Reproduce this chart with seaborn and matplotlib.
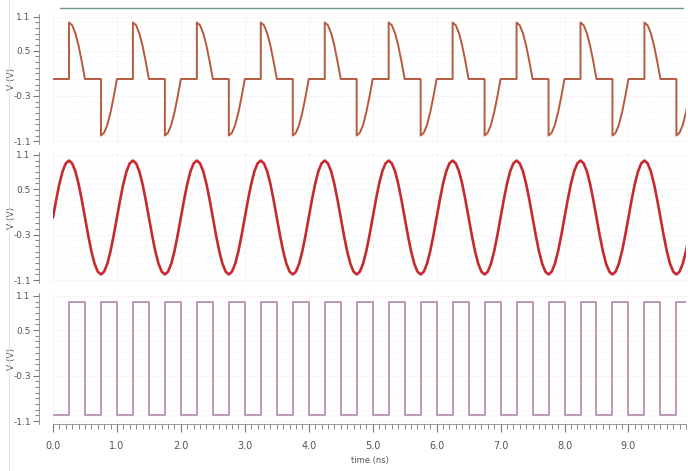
import numpy as np
import pandas as pd
import seaborn as sns
import matplotlib
matplotlib.use("Agg")
import matplotlib.pyplot as plt
from matplotlib.ticker import MultipleLocator, FixedLocator
from matplotlib.lines import Line2D

# ---- data ----
n_periods = 10          # waveform repeats every 1 ns
period_ns = 1.0

# middle panel: sine, one period sampled every 0.05 ns
sine_t = [0.00, 0.05, 0.10, 0.15, 0.20, 0.25, 0.30, 0.35, 0.40, 0.45,
          0.50, 0.55, 0.60, 0.65, 0.70, 0.75, 0.80, 0.85, 0.90, 0.95, 1.00]
sine_v = [0.00, 0.31, 0.59, 0.81, 0.95, 1.00, 0.95, 0.81, 0.59, 0.31,
          0.00, -0.31, -0.59, -0.81, -0.95, -1.00, -0.95, -0.81, -0.59, -0.31, 0.00]

# top panel: switched (sampled) output, one period
switched_t = [0.00, 0.25, 0.25, 0.30, 0.35, 0.40, 0.45, 0.50,
              0.75, 0.75, 0.80, 0.85, 0.90, 0.95, 1.00]
switched_v = [0.00, 0.00, 1.00, 0.95, 0.81, 0.59, 0.31, 0.00,
              0.00, -1.00, -0.95, -0.81, -0.59, -0.31, 0.00]

# bottom panel: clock, one period (two clock cycles)
clock_t = [0.00, 0.25, 0.25, 0.50, 0.50, 0.75, 0.75, 1.00]
clock_v = [-1.00, -1.00, 1.00, 1.00, -1.00, -1.00, 1.00, 1.00]

y_ticks = [1.1, 0.5, -0.3, -1.1]
y_ticklabels = ["1.1", "0.5", "-0.3", "-1.1"]
x_ticks = [0, 1, 2, 3, 4, 5, 6, 7, 8, 9]
x_ticklabels = ["0.0", "1.0", "2.0", "3.0", "4.0", "5.0", "6.0", "7.0", "8.0", "9.0"]
y_label = "V (V)"
x_label = "time (ns)"


def repeat(t, v):
    tt, vv = [], []
    for k in range(n_periods):
        tt.extend([x + k * period_ns for x in t])
        vv.extend(v)
    return pd.DataFrame({"t": tt, "v": vv, "i": range(len(tt))})


df_top = repeat(switched_t, switched_v)
df_mid = repeat(sine_t, sine_v)
df_bot = repeat(clock_t, clock_v)

sns.set_theme(style="white")
plt.rcParams["font.family"] = ["DejaVu Sans"]

fig = plt.figure(figsize=(6.88, 4.71), dpi=100)
W, H = 688, 471
left_px, right_px = 53, 686
panels = [(14, 144), (152, 283), (293, 424)]
data = [(df_top, "#b65a3e", 1.4), (df_mid, "#c42a30", 1.9), (df_bot, "#b592b0", 1.3)]

axes = []
for (top, bot), (df, col, lw) in zip(panels, data):
    ax = fig.add_axes([left_px / W, 1 - bot / H, (right_px - left_px) / W, (bot - top) / H])
    sns.lineplot(data=df, x="t", y="v", ax=ax, sort=False, estimator=None,
                 errorbar=None, color=col, lw=lw)
    ax.set_xlim(0, 9.9)
    ax.set_ylim(-1.15, 1.15)
    ax.yaxis.set_major_locator(FixedLocator(y_ticks))
    ax.set_yticklabels(y_ticklabels)
    ax.yaxis.set_minor_locator(MultipleLocator(0.1))
    ax.xaxis.set_major_locator(FixedLocator(x_ticks))
    ax.xaxis.set_minor_locator(MultipleLocator(0.1))
    ax.grid(True, which="major", axis="both", color="#efe4e8", lw=0.7, ls=":")
    ax.grid(True, which="minor", axis="y", color="#f4eef0", lw=0.5, ls=":")
    for s in ["top", "right"]:
        ax.spines[s].set_visible(False)
    ax.spines["left"].set_position(("outward", 10))
    ax.spines["left"].set_color("#888888")
    ax.spines["left"].set_linewidth(0.6)
    ax.tick_params(axis="y", which="major", left=True, length=4, width=0.8,
                   color="#777777", labelsize=6.5, labelcolor="#555555", pad=2)
    ax.tick_params(axis="y", which="minor", left=True, length=3, width=0.8,
                   color="#888888")
    ax.set_ylabel(y_label, fontsize=6.5, color="#555555")
    ax.yaxis.set_label_coords(-0.058, 0.5)
    axes.append(ax)

for ax in axes[:2]:
    ax.spines["bottom"].set_visible(False)
    ax.tick_params(axis="x", which="both", bottom=False, labelbottom=False)
    ax.set_xlabel("")

axb = axes[2]
axb.spines["bottom"].set_color("#888888")
axb.spines["bottom"].set_linewidth(0.6)
axb.set_xticklabels(x_ticklabels)
axb.tick_params(axis="x", which="major", bottom=True, length=6, width=0.8,
                color="#777777", labelsize=7, labelcolor="#555555", pad=6)
axb.tick_params(axis="x", which="minor", bottom=True, length=3.5, width=0.7,
                color="#888888")
axb.set_xlabel(x_label, fontsize=6, color="#555555", labelpad=4)

# window decorations
fig.add_artist(Line2D([60 / W, 683 / W], [1 - 8 / H, 1 - 8 / H], color="#6f9a88", lw=1.0))
fig.add_artist(Line2D([9 / W, 9 / W], [0, 1], color="#e2e2e2", lw=0.8))

fig.savefig("out.png", dpi=100, facecolor="white")
